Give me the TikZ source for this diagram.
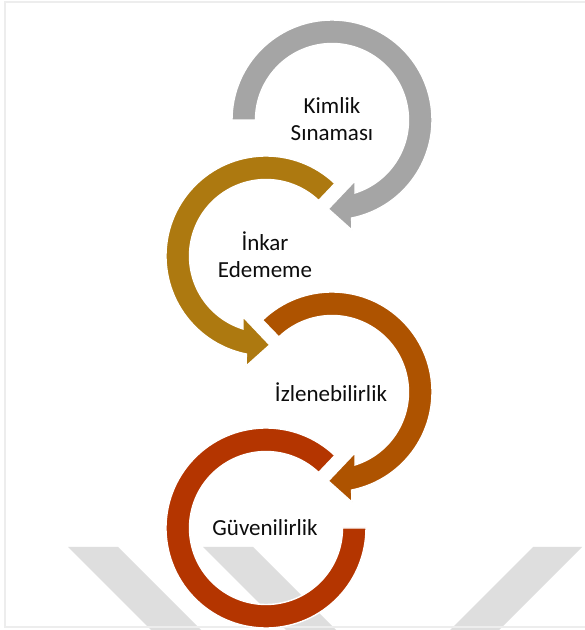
\documentclass[tikz,border=0pt]{standalone}
\usepackage{fontspec}
\setmainfont{Carlito}
\begin{document}
\begin{tikzpicture}[x=1pt,y=1pt,
  band/.style={fill=#1, draw=white, line width=1.4pt, line join=miter},
  label/.style={align=center, text=black!95, font=\fontsize{23}{27}\selectfont, inner sep=0pt},
  frameline/.style={draw=black!7, line width=1.6pt},
  stripe/.style={fill=black!13}]
\definecolor{cGray}{RGB}{165,165,165}
\definecolor{cGold}{RGB}{173,121,16}
\definecolor{cOrange}{RGB}{174,83,0}
\definecolor{cRed}{RGB}{180,53,0}
\useasboundingbox (0,0) rectangle (585,630);
\fill[white] (0,0) rectangle (585,630);

% faint logo stripes near the bottom
\fill[stripe] (68,83) -- (118,83) -- (201,0) -- (151,0) -- cycle;
\fill[stripe] (203,83) -- (253,83) -- (336,0) -- (286,0) -- cycle;
\fill[stripe] (533,83) -- (582,83) -- (499,0) -- (450,0) -- cycle;

% page frame
\draw[frameline] (585,628) -- (5,628) -- (5,3) -- (585,3);

% ring centres
\coordinate (c1) at (332,510);
\coordinate (c2) at (266,374);
\coordinate (c3) at (332,238);
\coordinate (c4) at (266,102);

% last ring: open at the right, no head
\begin{scope}[shift={(c4)}]
\path[band=cRed] (46.5:100) arc[start angle=46.5, end angle=360, radius=100]
  -- (0:76.5) arc[start angle=360, end angle=46.5, radius=76.5] -- cycle;
\end{scope}

% third ring: clockwise with head
\begin{scope}[shift={(c3)}]
\path[band=cOrange] (134:100) arc[start angle=134, end angle=-78.7, radius=100]
  -- (-79.7:112) -- (-92.4:89) -- (-69.3:65) -- (-72.5:76.5)
  arc[start angle=-72.5, end angle=134, radius=76.5] -- cycle;
\end{scope}

% second ring: counter-clockwise with head
\begin{scope}[shift={(c2)}]
\path[band=cGold] (46.5:100) arc[start angle=46.5, end angle=258.7, radius=100]
  -- (259.7:112) -- (272.4:89) -- (249.3:65) -- (252.5:76.5)
  arc[start angle=252.5, end angle=46.5, radius=76.5] -- cycle;
\end{scope}

% first ring: clockwise with head
\begin{scope}[shift={(c1)}]
\path[band=cGray] (180:100) arc[start angle=180, end angle=-78.7, radius=100]
  -- (-79.7:112) -- (-92.4:89) -- (-69.3:65) -- (-72.5:76.5)
  arc[start angle=-72.5, end angle=180, radius=76.5] -- cycle;
\end{scope}

\node[label] (t1) at (332,511) {Kimlik\\Sınaması};
\node[label] (t2) at (265,375) {İnkar\\Edememe};
\node[label] (t3) at (331,238) {İzlenebilirlik};
\node[label] (t4) at (265,102) {Güvenilirlik};
\end{tikzpicture}
\end{document}
